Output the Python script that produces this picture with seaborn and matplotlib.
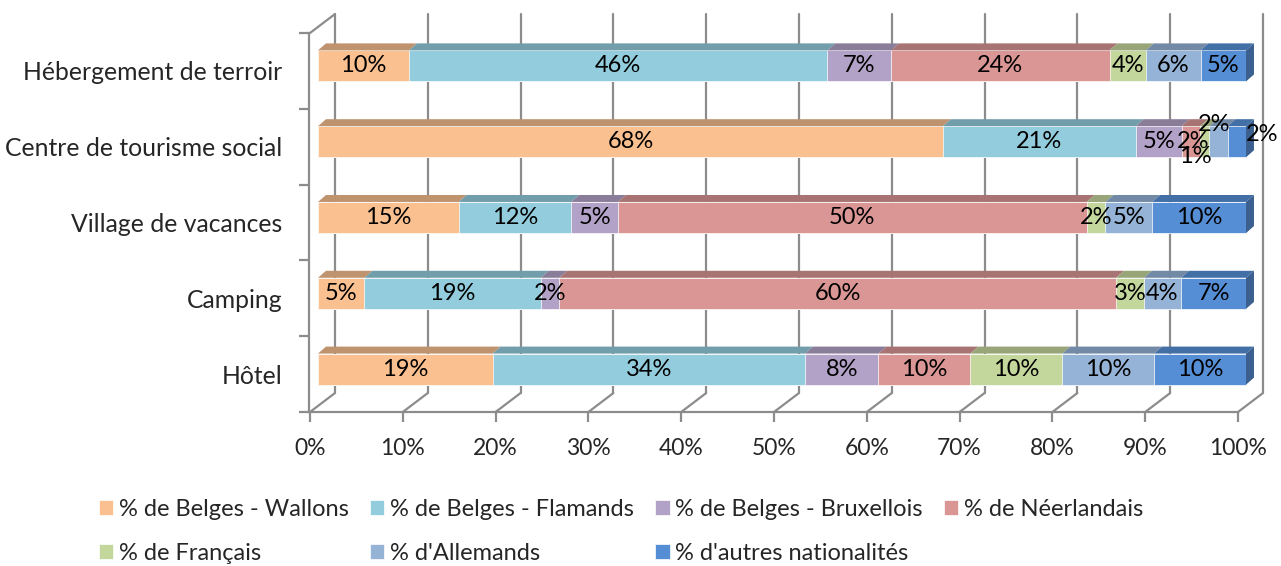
import numpy as np
import pandas as pd
import matplotlib
matplotlib.use("Agg")
import matplotlib.pyplot as plt
import seaborn as sns
from matplotlib.patches import Polygon
from matplotlib.transforms import ScaledTranslation
from matplotlib.ticker import FixedLocator, FuncFormatter

categories = ["Hébergement de terroir", "Centre de tourisme social",
              "Village de vacances", "Camping", "Hôtel"]
series = ["% de Belges - Wallons", "% de Belges - Flamands", "% de Belges - Bruxellois",
          "% de Néerlandais", "% de Français", "% d'Allemands", "% d'autres nationalités"]

wallons = [10, 68, 15, 5, 19]
flamands = [46, 21, 12, 19, 34]
bruxellois = [7, 5, 5, 2, 8]
neerlandais = [24, 2, 50, 60, 10]
francais = [4, 1, 2, 3, 10]
allemands = [6, 2, 5, 4, 10]
autres = [5, 2, 10, 7, 10]

colors = ["#FAC090", "#93CDDD", "#B3A2C7", "#D99694", "#C3D69B", "#95B3D7", "#558ED5"]
tops = ["#C0936F", "#719EAA", "#8A7D99", "#A87473", "#97A578", "#738AA6", "#426FA6"]
grid_col = "#8C8C8C"

sns.set_theme(style="white")
plt.rcParams['font.family'] = ['Lato', 'DejaVu Sans']

vals = np.array([wallons, flamands, bruxellois, neerlandais, francais, allemands, autres], dtype=float)
# 100% stacked, like the original chart
share = vals / vals.sum(axis=0) * 100
cum = np.cumsum(share, axis=0)

df = pd.DataFrame(cum.T, columns=series)
df["cat"] = categories

fig = plt.figure(figsize=(12.81, 5.66), dpi=100)
ax = fig.add_axes([310 / 1281, 1 - 412 / 566, 928 / 1281, 379 / 566])

bar_h = 0.41
for i in range(len(series) - 1, -1, -1):
    sns.barplot(data=df, x=series[i], y="cat", color=colors[i], width=bar_h,
                orient="h", ax=ax, saturation=1, edgecolor="white", linewidth=0.5,
                label=series[i], zorder=2)
if ax.legend_ is not None:
    ax.legend_.remove()

ax.set_xlim(0, 100)
ax.set_ylim(4.5, -0.5)

# bars sit a little behind the front plane
shift = ScaledTranslation(0.08, 0.05, fig.dpi_scale_trans)
for p in ax.patches:
    p.set_transform(ax.transData + shift)
    p.set_clip_on(False)

# fake 3d top and side faces
dx, dy = 0.86, 0.092
for j in range(len(categories)):
    left = 0
    yt = j - bar_h / 2
    yb = j + bar_h / 2
    for i in range(len(series)):
        right = cum[i, j]
        poly = Polygon([(left, yt), (right, yt), (right + dx, yt - dy), (left + dx, yt - dy)],
                       closed=True, facecolor=tops[i], edgecolor="none", zorder=3,
                       transform=ax.transData + shift, clip_on=False)
        ax.add_patch(poly)
        left = right
    side = Polygon([(100, yt), (100 + dx, yt - dy), (100 + dx, yb - dy), (100, yb)],
                   closed=True, facecolor="#3B6090", edgecolor="none", zorder=3,
                   transform=ax.transData + shift, clip_on=False)
    ax.add_patch(side)

# data labels (a few small ones were moved by hand in the original)
offsets = {(1, 3): (0.2, 0), (1, 4): (-1.0, 0.2), (1, 5): (-0.5, -0.23), (1, 6): (2.7, -0.09)}
for j in range(len(categories)):
    left = 0
    for i in range(len(series)):
        right = cum[i, j]
        ox, oy = offsets.get((j, i), (0, 0))
        ax.text((left + right) / 2 + ox, j + oy, f"{int(vals[i, j])}%", ha="center",
                va="center", fontsize=17, color="black", zorder=5,
                transform=ax.transData + shift, clip_on=False)
        left = right

# back wall gridlines with the floor diagonals
bx, by = 2.69, 0.25
for v in np.arange(0, 101, 10):
    ax.plot([v + bx, v + bx], [4.5 - by, -0.5 - by], color=grid_col, lw=1.6,
            zorder=0.5, clip_on=False)
    ax.plot([v, v + bx], [4.5, 4.5 - by], color=grid_col, lw=1.6, zorder=0.5, clip_on=False)
ax.plot([0, bx], [-0.5, -0.5 - by], color=grid_col, lw=1.6, zorder=0.5, clip_on=False)

ax.set_xlabel("")
ax.set_ylabel("")
ax.xaxis.set_major_locator(FixedLocator(np.arange(0, 101, 10)))
ax.xaxis.set_major_formatter(FuncFormatter(lambda v, p: f"{int(v)}%"))
ax.grid(False)
for s in ["top", "right"]:
    ax.spines[s].set_visible(False)
for s in ["left", "bottom"]:
    ax.spines[s].set_color(grid_col)
    ax.spines[s].set_linewidth(1.6)
ax.spines["left"].set_position(("outward", 1))
ax.yaxis.set_minor_locator(FixedLocator(np.arange(-0.5, 5, 1)))
ax.tick_params(axis="y", which="major", length=0, pad=19, labelsize=17.8)
ax.tick_params(axis="y", which="minor", length=7, color=grid_col, width=1.6, left=True)
ax.tick_params(axis="x", length=7, color=grid_col, width=1.6, bottom=True, pad=12,
               labelsize=16.5)

handles, labels = ax.get_legend_handles_labels()
hmap = dict(zip(labels, handles))
order = [0, 4, 1, 5, 2, 6, 3]
fig.legend([hmap[series[k]] for k in order], [series[k] for k in order],
           loc="center", bbox_to_anchor=(0.485, 0.061), ncol=4, frameon=False,
           fontsize=17, handlelength=0.6, handleheight=0.6, handletextpad=0.25,
           columnspacing=0.9, labelspacing=1.0)

fig.savefig("out.png", dpi=100)
